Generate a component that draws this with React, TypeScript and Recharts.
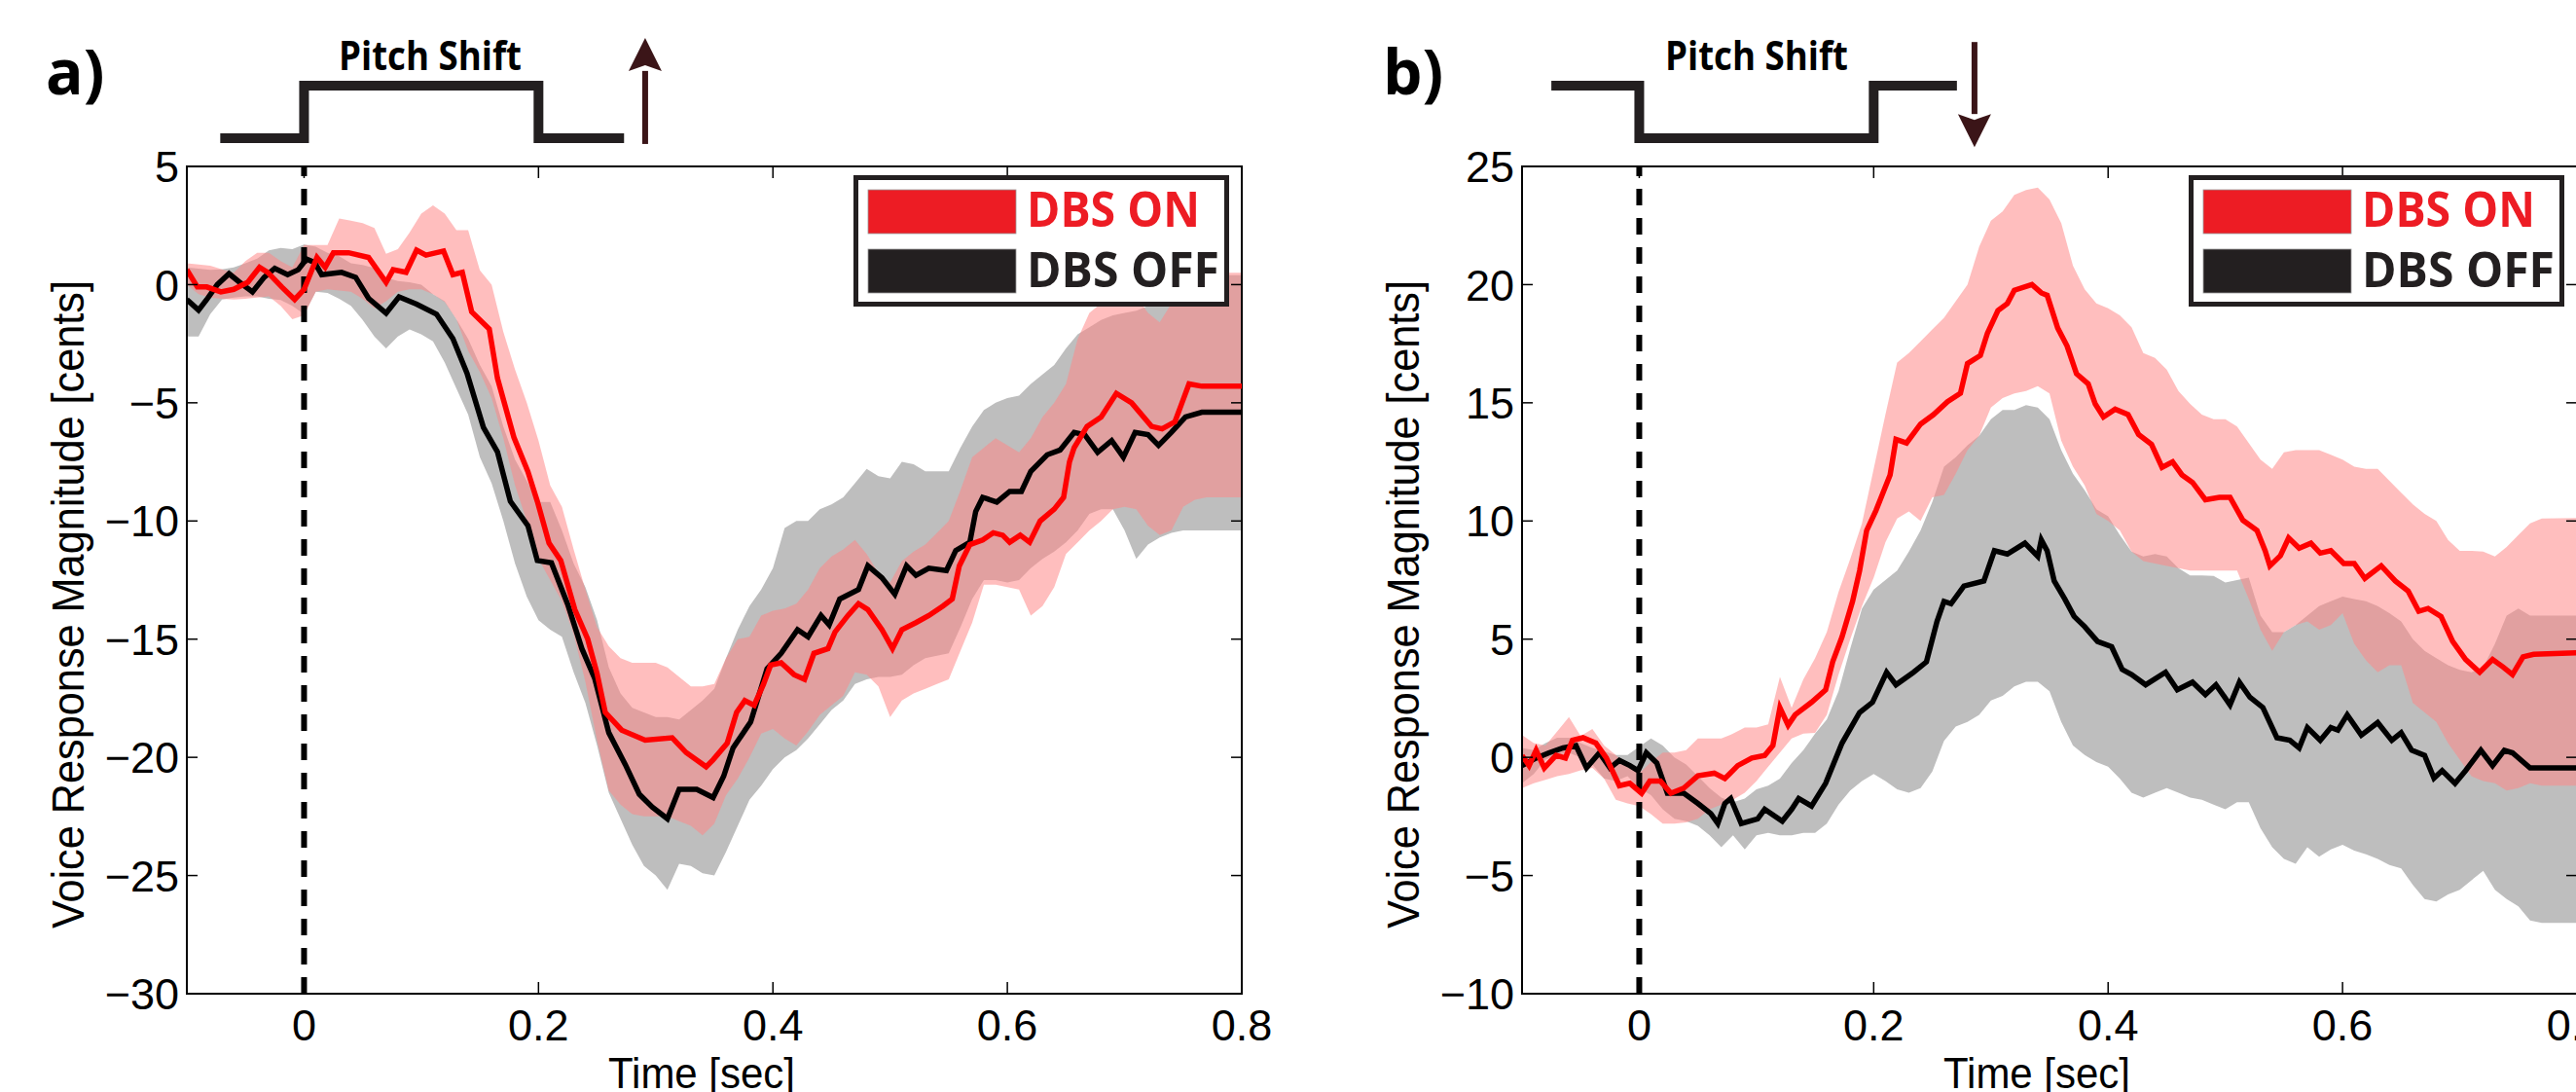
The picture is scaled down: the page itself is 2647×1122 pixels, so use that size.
import React from 'react';
import { ComposedChart, LineChart, Line, Area, XAxis, YAxis, ReferenceLine, ReferenceArea } from 'recharts';

const NARROW = "'Liberation Sans Narrow', 'Arial Narrow', 'Liberation Sans', sans-serif";
const BOLD = "'Open Sans', 'Liberation Sans', sans-serif";

// panel geometry
const W = 1400;
const H = 1122;
const AXIS_W = 192;
const PLOT_W = 1084;
const TOP = 171;
const BOTTOM_H = 101;
const PLOT_H = H - TOP - BOTTOM_H;
const RIGHT = W - AXIS_W - PLOT_W;
const TIME_DOMAIN: [number, number] = [-0.1, 0.8];

const timeTicks = [0, 0.2, 0.4, 0.6, 0.8];
const upTicks = [-30, -25, -20, -15, -10, -5, 0, 5];
const downTicks = [-10, -5, 0, 5, 10, 15, 20, 25];

// a) pitch shift up: [time, mean]
const upOnMean = [
  [-0.1, 0.63], [-0.091, -0.1], [-0.083, -0.1], [-0.071, -0.31], [-0.06, -0.2], [-0.048, 0.1], [-0.038, 0.73],
  [-0.031, 0.52], [-0.019, -0.1], [-0.008, -0.63], [0, -0.2], [0.011, 1.15], [0.018, 0.73], [0.025, 1.35],
  [0.038, 1.35], [0.055, 1.15], [0.07, 0.1], [0.076, 0.63], [0.087, 0.52], [0.096, 1.46], [0.104, 1.25],
  [0.119, 1.42], [0.127, 0.42], [0.135, 0.52], [0.143, -1.15], [0.158, -1.88], [0.165, -3.96], [0.179, -6.46],
  [0.191, -7.92], [0.199, -9.17], [0.209, -10.94], [0.219, -11.67], [0.231, -13.75], [0.242, -15.0],
  [0.25, -16.46], [0.257, -18.1], [0.271, -18.85], [0.291, -19.27], [0.314, -19.17], [0.326, -19.8],
  [0.343, -20.4], [0.349, -20.1], [0.361, -19.4], [0.369, -18.1], [0.376, -17.6], [0.384, -17.8],
  [0.392, -16.9], [0.398, -16.1], [0.407, -16.0], [0.418, -16.5], [0.427, -16.7], [0.435, -15.6],
  [0.447, -15.4], [0.453, -14.7], [0.464, -14.0], [0.473, -13.5], [0.481, -13.75], [0.493, -14.6],
  [0.502, -15.4], [0.51, -14.6], [0.522, -14.3], [0.533, -14.0], [0.545, -13.6], [0.553, -13.3],
  [0.559, -11.9], [0.568, -11.0], [0.579, -10.8], [0.588, -10.5], [0.596, -10.6], [0.602, -10.9],
  [0.611, -10.6], [0.619, -10.9], [0.628, -10.0], [0.64, -9.5], [0.648, -9.0], [0.653, -7.5], [0.657, -6.9],
  [0.668, -6.0], [0.68, -5.6], [0.693, -4.6], [0.706, -5.0], [0.723, -6.0], [0.732, -6.1], [0.743, -5.8],
  [0.749, -5.0], [0.755, -4.2], [0.766, -4.3], [0.8, -4.3],
];
const upOffMean = [
  [-0.1, -0.63], [-0.09, -1.08], [-0.083, -0.63], [-0.074, 0], [-0.064, 0.46], [-0.055, 0.1], [-0.044, -0.31],
  [-0.034, 0.31], [-0.025, 0.69], [-0.014, 0.42], [-0.005, 0.63], [0.002, 1.08], [0.009, 0.94], [0.015, 0.42],
  [0.032, 0.52], [0.044, 0.31], [0.055, -0.58], [0.07, -1.21], [0.081, -0.52], [0.096, -0.83], [0.113, -1.25],
  [0.127, -2.29], [0.139, -3.75], [0.153, -6.04], [0.165, -7.08], [0.176, -9.17], [0.191, -10.2],
  [0.199, -11.67], [0.211, -11.77], [0.225, -13.54], [0.237, -15.4], [0.248, -16.67], [0.26, -18.96],
  [0.274, -20.3], [0.286, -21.56], [0.297, -22.1], [0.31, -22.6], [0.32, -21.35], [0.335, -21.35],
  [0.349, -21.7], [0.358, -20.8], [0.366, -19.6], [0.381, -18.5], [0.395, -16.25], [0.407, -15.6],
  [0.421, -14.6], [0.43, -14.9], [0.441, -14.0], [0.448, -14.4], [0.457, -13.3], [0.473, -12.9],
  [0.481, -11.9], [0.493, -12.4], [0.504, -13.1], [0.514, -11.9], [0.522, -12.3], [0.533, -12.0],
  [0.548, -12.1], [0.556, -11.25], [0.568, -10.9], [0.573, -9.6], [0.579, -9.0], [0.591, -9.2],
  [0.602, -8.75], [0.612, -8.75], [0.62, -7.9], [0.634, -7.2], [0.645, -7.0], [0.657, -6.25], [0.666, -6.35],
  [0.677, -7.1], [0.689, -6.6], [0.699, -7.3], [0.709, -6.25], [0.72, -6.35], [0.729, -6.8], [0.74, -6.25],
  [0.752, -5.6], [0.766, -5.4], [0.8, -5.4],
];
// [time, lower, upper]
const upOnBand = [
  [-0.1, 0.0, 0.9], [-0.09, -0.4, 0.85], [-0.08, -0.55, 0.8], [-0.07, -0.6, 0.65], [-0.06, -0.63, 0.5],
  [-0.05, -0.6, 1.0], [-0.04, -0.55, 1.35], [-0.03, -0.5, 1.35], [-0.02, -0.9, 1.0], [-0.01, -1.46, 0.73],
  [0.0, -1.3, 1.67], [0.01, -0.3, 1.67], [0.02, -0.2, 1.67], [0.03, -0.25, 2.8], [0.04, -0.3, 2.7],
  [0.05, -0.6, 2.6], [0.06, -1.0, 2.4], [0.07, -0.7, 1.3], [0.08, -0.3, 1.5], [0.09, -0.2, 2.2],
  [0.1, -0.2, 3.0], [0.11, -0.4, 3.35], [0.12, -0.73, 3.0], [0.13, -1.46, 2.3], [0.14, -2.8, 2.3],
  [0.15, -3.7, 0.6], [0.16, -4.8, 0.0], [0.17, -6.5, -2.0], [0.18, -8.5, -3.6], [0.19, -10.0, -5.0],
  [0.2, -11.6, -6.6], [0.21, -12.5, -8.5], [0.22, -13.4, -9.4], [0.23, -14.8, -11.2], [0.24, -16.8, -12.9],
  [0.25, -19.3, -14.5], [0.26, -21.4, -15.3], [0.27, -22.0, -15.8], [0.28, -22.4, -16.0], [0.29, -22.5, -16.0],
  [0.3, -22.5, -16.0], [0.31, -22.5, -16.2], [0.32, -22.7, -16.6], [0.33, -22.9, -17.0], [0.34, -23.3, -17.0],
  [0.35, -22.8, -16.9], [0.36, -21.6, -15.8], [0.37, -20.9, -15.0], [0.38, -20.0, -14.9], [0.39, -19.0, -14.0],
  [0.4, -18.8, -13.8], [0.41, -19.2, -13.7], [0.42, -19.5, -13.5], [0.43, -18.9, -12.9], [0.44, -18.2, -12.0],
  [0.45, -17.8, -11.5], [0.46, -17.4, -11.2], [0.47, -16.4, -10.8], [0.48, -16.5, -11.4], [0.49, -17.0, -12.2],
  [0.5, -18.3, -12.6], [0.51, -17.6, -11.7], [0.52, -17.3, -11.3], [0.53, -17.1, -11.0], [0.54, -16.9, -10.5],
  [0.55, -16.7, -10.0], [0.56, -15.5, -8.7], [0.57, -14.3, -7.3], [0.58, -12.7, -6.9], [0.59, -12.7, -6.5],
  [0.6, -12.8, -6.8], [0.61, -12.9, -7.1], [0.62, -14.0, -6.5], [0.63, -13.6, -5.6], [0.64, -12.8, -5.0],
  [0.65, -11.4, -4.2], [0.66, -10.9, -2.3], [0.67, -10.4, -1.2], [0.68, -10.0, -0.8], [0.69, -9.5, -0.2],
  [0.7, -9.4, 0.0], [0.71, -9.5, -0.5], [0.72, -10.2, -1.2], [0.73, -10.6, -1.6], [0.74, -10.4, -0.8],
  [0.75, -9.4, 0.2], [0.76, -9.1, 0.45], [0.77, -9.0, 0.5], [0.8, -9.0, 0.5],
];
const upOffBand = [
  [-0.1, -2.2, 0.73], [-0.09, -2.2, 0.68], [-0.08, -1.25, 0.63], [-0.07, -0.63, 0.65], [-0.06, -0.55, 0.73],
  [-0.05, -0.5, 0.9], [-0.04, -0.5, 1.1], [-0.03, -0.6, 1.45], [-0.02, -0.65, 1.55], [-0.01, -0.9, 1.5],
  [0.0, -1.25, 1.7], [0.01, -0.3, 1.6], [0.02, -0.35, 1.35], [0.03, -0.6, 1.2], [0.04, -0.9, 0.9],
  [0.05, -1.5, 0.83], [0.06, -2.2, 0.7], [0.07, -2.7, 0.3], [0.08, -2.2, 0.15], [0.09, -1.9, 0.1],
  [0.1, -2.1, 0.0], [0.11, -2.4, -0.4], [0.12, -3.3, -0.7], [0.13, -4.4, -1.46], [0.14, -5.5, -2.3],
  [0.15, -7.3, -3.4], [0.16, -8.4, -4.3], [0.17, -10.0, -6.0], [0.18, -11.8, -7.4], [0.19, -13.2, -8.3],
  [0.2, -14.2, -9.2], [0.21, -14.6, -9.2], [0.22, -14.9, -10.4], [0.23, -16.4, -11.8], [0.24, -17.7, -12.8],
  [0.25, -19.5, -14.2], [0.26, -21.5, -16.2], [0.27, -22.6, -17.3], [0.28, -23.7, -17.9], [0.29, -24.6, -18.1],
  [0.3, -25.0, -18.3], [0.31, -25.6, -18.3], [0.32, -24.5, -18.4], [0.33, -24.6, -18.0], [0.34, -24.9, -17.6],
  [0.35, -25.0, -17.1], [0.36, -24.0, -15.8], [0.37, -22.9, -14.6], [0.38, -21.8, -13.6], [0.39, -21.2, -12.9],
  [0.4, -20.5, -12.0], [0.41, -20.0, -10.3], [0.42, -19.7, -10.0], [0.43, -19.2, -10.0], [0.44, -18.6, -9.5],
  [0.45, -18.0, -9.3], [0.46, -17.6, -9.0], [0.47, -16.9, -8.4], [0.48, -16.7, -7.8], [0.49, -16.6, -8.1],
  [0.5, -16.6, -8.2], [0.51, -16.5, -7.5], [0.52, -16.1, -7.6], [0.53, -15.8, -7.9], [0.54, -15.7, -7.9],
  [0.55, -15.6, -7.9], [0.56, -14.5, -6.9], [0.57, -13.3, -6.0], [0.58, -12.5, -5.3], [0.59, -12.5, -5.0],
  [0.6, -12.6, -4.8], [0.61, -12.5, -4.7], [0.62, -12.0, -4.2], [0.63, -11.6, -3.8], [0.64, -11.3, -3.4],
  [0.65, -10.9, -2.7], [0.66, -10.4, -2.1], [0.67, -9.7, -1.8], [0.68, -9.5, -1.5], [0.69, -9.5, -1.3],
  [0.7, -10.4, -1.2], [0.71, -11.6, -1.1], [0.72, -11.0, -0.9], [0.73, -10.7, -0.6], [0.74, -10.5, -0.3],
  [0.75, -10.4, 0.1], [0.76, -10.4, 0.3], [0.77, -10.4, 0.4], [0.8, -10.4, 0.4],
];

// b) pitch shift down
const downOnMean = [
  [-0.1, 0.08], [-0.094, -0.35], [-0.088, 0.3], [-0.081, -0.45], [-0.071, 0.08], [-0.063, -0.03], [-0.057, 0.72],
  [-0.048, 0.83], [-0.037, 0.6], [-0.028, -0.03], [-0.017, -1.2], [-0.008, -1.1], [0.002, -1.52], [0.009, -1.0],
  [0.018, -1.0], [0.027, -1.52], [0.038, -1.3], [0.05, -0.78], [0.064, -0.67], [0.073, -0.9], [0.084, -0.35],
  [0.096, -0.03], [0.107, 0.08], [0.114, 0.5], [0.12, 2.1], [0.127, 1.36], [0.133, 1.8], [0.147, 2.33],
  [0.159, 2.86], [0.165, 4.04], [0.173, 5.1], [0.182, 6.6], [0.188, 7.9], [0.194, 9.6], [0.202, 10.45],
  [0.214, 11.95], [0.219, 13.45], [0.228, 13.3], [0.24, 14.1], [0.251, 14.5], [0.263, 15.05], [0.274, 15.4],
  [0.28, 16.66], [0.291, 17.0], [0.297, 17.94], [0.306, 18.9], [0.314, 19.2], [0.32, 19.76], [0.335, 20.0],
  [0.343, 19.65], [0.348, 19.55], [0.357, 18.16], [0.365, 17.4], [0.373, 16.23], [0.383, 15.8], [0.389, 14.95],
  [0.396, 14.4], [0.406, 14.73], [0.417, 14.5], [0.426, 13.66], [0.437, 13.24], [0.446, 12.27], [0.455, 12.5],
  [0.463, 11.95], [0.472, 11.63], [0.483, 10.9], [0.495, 11.0], [0.504, 11.0], [0.515, 10.03], [0.527, 9.6],
  [0.534, 8.74], [0.538, 8.1], [0.547, 8.53], [0.554, 9.28], [0.563, 8.85], [0.573, 9.06], [0.581, 8.64],
  [0.59, 8.74], [0.601, 8.2], [0.61, 8.2], [0.619, 7.57], [0.633, 8.1], [0.645, 7.46], [0.656, 7.03],
  [0.665, 6.18], [0.673, 6.3], [0.684, 5.96], [0.694, 4.9], [0.705, 4.14], [0.717, 3.6], [0.728, 4.14],
  [0.737, 3.82], [0.745, 3.5], [0.754, 4.25], [0.763, 4.36], [0.8, 4.42],
];
const downOffMean = [
  [-0.1, -0.35], [-0.088, -0.03], [-0.077, 0.19], [-0.065, 0.4], [-0.054, 0.5], [-0.045, -0.45], [-0.034, 0.19],
  [-0.025, -0.45], [-0.017, -0.13], [-0.008, -0.35], [-0.001, -0.56], [0.006, 0.19], [0.015, -0.24],
  [0.024, -1.52], [0.038, -1.52], [0.05, -1.95], [0.061, -2.38], [0.067, -2.8], [0.073, -1.95], [0.078, -1.74],
  [0.087, -2.8], [0.101, -2.6], [0.107, -2.2], [0.122, -2.7], [0.13, -2.2], [0.136, -1.74], [0.147, -2.06],
  [0.159, -1.1], [0.173, 0.6], [0.188, 1.9], [0.199, 2.33], [0.211, 3.6], [0.219, 3.07], [0.234, 3.6],
  [0.245, 4.04], [0.254, 5.75], [0.26, 6.6], [0.266, 6.5], [0.277, 7.25], [0.294, 7.46], [0.303, 8.74],
  [0.314, 8.6], [0.329, 9.06], [0.34, 8.5], [0.343, 9.2], [0.348, 8.74], [0.354, 7.46], [0.363, 6.7],
  [0.371, 5.96], [0.38, 5.53], [0.391, 4.9], [0.403, 4.68], [0.412, 3.72], [0.42, 3.5], [0.432, 3.07],
  [0.449, 3.6], [0.459, 2.86], [0.472, 3.18], [0.483, 2.65], [0.492, 3.07], [0.504, 2.22], [0.512, 3.18],
  [0.521, 2.54], [0.532, 2.11], [0.544, 0.83], [0.555, 0.72], [0.563, 0.4], [0.57, 1.26], [0.581, 0.72],
  [0.59, 1.26], [0.596, 1.15], [0.604, 1.8], [0.616, 0.94], [0.63, 1.47], [0.642, 0.72], [0.65, 1.04],
  [0.659, 0.3], [0.67, 0.08], [0.678, -0.88], [0.685, -0.56], [0.696, -1.1], [0.705, -0.56], [0.718, 0.3],
  [0.728, -0.35], [0.738, 0.3], [0.745, 0.19], [0.76, -0.45], [0.8, -0.45],
];
const downOnBand = [
  [-0.1, -1.3, 0.94], [-0.09, -1.1, 0.6], [-0.08, -0.95, 0.5], [-0.07, -0.8, 1.1], [-0.06, -0.7, 1.7],
  [-0.05, -0.55, 0.9], [-0.04, -0.45, 1.2], [-0.03, -0.9, 0.5], [-0.02, -1.8, 0.1], [-0.01, -1.95, -0.4],
  [0.0, -2.06, -0.67], [0.01, -2.4, -0.2], [0.02, -2.8, 0.2], [0.03, -2.8, 0.2], [0.04, -2.75, 0.3],
  [0.05, -2.6, 0.8], [0.06, -2.2, 0.8], [0.07, -2.0, 0.8], [0.08, -1.8, 1.0], [0.09, -1.5, 1.26],
  [0.1, -1.0, 1.26], [0.11, -0.4, 1.4], [0.12, 0.2, 3.4], [0.13, 0.8, 2.1], [0.14, 1.0, 3.3],
  [0.15, 1.04, 4.2], [0.16, 1.8, 5.3], [0.17, 3.5, 7.0], [0.18, 5.0, 8.4], [0.19, 6.4, 9.9],
  [0.2, 7.6, 12.2], [0.21, 9.1, 14.5], [0.22, 10.1, 16.7], [0.23, 10.4, 17.1], [0.24, 10.0, 17.6],
  [0.25, 11.0, 18.1], [0.26, 11.1, 18.6], [0.27, 12.0, 19.3], [0.28, 13.0, 20.0], [0.29, 13.6, 21.6],
  [0.3, 14.8, 22.7], [0.31, 15.2, 23.1], [0.32, 15.4, 23.8], [0.33, 15.5, 24.0], [0.34, 15.7, 24.1],
  [0.35, 15.4, 23.6], [0.36, 13.4, 22.6], [0.37, 12.3, 20.8], [0.38, 11.5, 19.8], [0.39, 10.3, 19.2],
  [0.4, 10.0, 19.0], [0.41, 9.6, 18.7], [0.42, 8.7, 18.2], [0.43, 8.3, 17.1], [0.44, 8.2, 16.9],
  [0.45, 8.1, 16.4], [0.46, 8.0, 15.5], [0.47, 7.9, 14.95], [0.48, 7.9, 14.5], [0.49, 7.9, 14.3],
  [0.5, 7.9, 14.3], [0.51, 7.9, 14.0], [0.52, 6.7, 13.3], [0.53, 5.4, 12.6], [0.54, 4.5, 12.2],
  [0.55, 5.3, 12.9], [0.56, 5.6, 13.0], [0.57, 5.75, 13.0], [0.58, 5.4, 13.0], [0.59, 5.6, 12.8],
  [0.6, 6.1, 12.6], [0.61, 4.8, 12.3], [0.62, 4.1, 12.2], [0.63, 3.6, 12.2], [0.64, 3.9, 11.7],
  [0.65, 3.9, 11.2], [0.66, 2.3, 10.7], [0.67, 1.9, 10.3], [0.68, 1.5, 10.0], [0.69, 0.6, 9.2],
  [0.7, -0.1, 8.74], [0.71, -0.8, 8.74], [0.72, -1.0, 8.7], [0.73, -1.1, 8.5], [0.74, -1.4, 8.9],
  [0.75, -1.3, 9.4], [0.76, -1.1, 9.9], [0.77, -1.2, 10.1], [0.8, -1.2, 10.13],
];
const downOffBand = [
  [-0.1, -1.1, 0.4], [-0.09, -0.7, 0.3], [-0.08, -0.1, 0.6], [-0.07, 0.1, 0.83], [-0.06, 0.19, 0.83],
  [-0.05, 0.0, 0.6], [-0.04, -0.3, 0.4], [-0.03, -0.9, 0.25], [-0.02, -1.0, 0.1], [-0.01, -0.8, 0.1],
  [0.0, -1.3, 0.45], [0.01, -1.6, 0.8], [0.02, -2.2, 0.5], [0.03, -2.6, 0.0], [0.04, -2.7, -0.3],
  [0.05, -2.9, -0.8], [0.06, -3.3, -1.3], [0.07, -3.8, -1.7], [0.08, -3.3, -1.9], [0.09, -3.9, -1.74],
  [0.1, -3.3, -1.35], [0.11, -3.2, -1.2], [0.12, -3.3, -0.9], [0.13, -3.3, -0.24], [0.14, -3.2, 0.3],
  [0.15, -3.2, 1.0], [0.16, -2.8, 1.6], [0.17, -2.0, 2.8], [0.18, -1.4, 4.6], [0.19, -1.0, 6.3],
  [0.2, -0.7, 7.1], [0.21, -1.0, 7.5], [0.22, -1.35, 7.9], [0.23, -1.5, 8.7], [0.24, -1.3, 9.6],
  [0.25, -0.6, 10.8], [0.26, 0.7, 12.3], [0.27, 1.3, 12.7], [0.28, 1.5, 13.2], [0.29, 1.8, 13.6],
  [0.3, 2.4, 14.3], [0.31, 2.6, 14.7], [0.32, 3.0, 14.7], [0.33, 3.2, 14.9], [0.34, 3.2, 14.8],
  [0.35, 2.8, 14.3], [0.36, 1.5, 13.0], [0.37, 0.5, 12.0], [0.38, 0.1, 11.3], [0.39, -0.2, 10.5],
  [0.4, -0.4, 10.2], [0.41, -0.9, 9.4], [0.42, -1.5, 8.7], [0.43, -1.7, 8.5], [0.44, -1.5, 8.6],
  [0.45, -1.3, 8.5], [0.46, -1.5, 8.0], [0.47, -1.7, 7.7], [0.48, -1.8, 7.7], [0.49, -2.0, 7.67],
  [0.5, -2.2, 7.4], [0.51, -1.9, 7.5], [0.52, -1.9, 7.6], [0.53, -3.0, 6.0], [0.54, -3.8, 5.3],
  [0.55, -4.3, 5.3], [0.56, -4.5, 5.6], [0.57, -3.8, 6.0], [0.58, -4.2, 6.4], [0.59, -3.9, 6.6],
  [0.6, -3.7, 6.8], [0.61, -3.95, 6.7], [0.62, -4.1, 6.6], [0.63, -4.3, 6.4], [0.64, -4.55, 6.1],
  [0.65, -4.7, 5.75], [0.66, -5.4, 5.0], [0.67, -6.0, 4.5], [0.68, -6.1, 4.2], [0.69, -5.8, 3.9],
  [0.7, -5.6, 3.7], [0.71, -5.2, 3.6], [0.72, -4.8, 3.8], [0.73, -5.6, 4.8], [0.74, -6.0, 6.0],
  [0.75, -6.3, 6.3], [0.76, -6.9, 6.0], [0.77, -7.0, 6.0], [0.8, -7.0, 6.0],
];

// pitch shift stimulus trace: [time, level]
const upShiftStep = [[-0.0715, 0], [0, 1], [0.2, 0], [0.273, 0]];
const downShiftStep = [[-0.075, 1], [0, 0], [0.2, 1], [0.271, 1]];
// arrow: [time, level] from tail to head base
const upArrow = [[0.291, -0.11], [0.291, 1.28]];
const downArrow = [[0.286, 1.83], [0.286, 0.46]];

const toLine = (rows: number[][]) => rows.map(([t, v]) => ({ t, v }));
const toBand = (rows: number[][]) => rows.map(([t, lo, hi]) => ({ t, range: [lo, hi] }));
const fmt = (v: number) => (v < 0 ? '\u2212' + Math.abs(v) : String(v));

function XTick(props: any) {
  const { x, y, payload } = props;
  return (
    <g>
      <line x1={x} x2={x} y1={y} y2={y - 12} stroke="#000" strokeWidth={1.5} />
      <line x1={x} x2={x} y1={TOP} y2={TOP + 12} stroke="#000" strokeWidth={1.5} />
      <text x={x} y={y + 48} textAnchor="middle" fontSize={45} fontFamily={NARROW} fill="#000">
        {String(payload.value)}
      </text>
    </g>
  );
}

function YTick(props: any) {
  const { x, y, payload } = props;
  return (
    <g>
      <line x1={x} x2={x + 11} y1={y} y2={y} stroke="#000" strokeWidth={1.5} />
      <line x1={x + PLOT_W} x2={x + PLOT_W - 11} y1={y} y2={y} stroke="#000" strokeWidth={1.5} />
      <text x={x - 8} y={y} dy="0.36em" textAnchor="end" fontSize={45} fontFamily={NARROW} fill="#000">
        {fmt(payload.value)}
      </text>
    </g>
  );
}

function XTitle() {
  const cx = AXIS_W + PLOT_W / 2 - 13;
  return (
    <text x={cx} y={H - 4} textAnchor="middle" fontSize={44} fontFamily={NARROW} fill="#000"
      textLength={192} lengthAdjust="spacingAndGlyphs">Time [sec]</text>
  );
}

function YTitle() {
  const cx = 86;
  const cy = TOP + PLOT_H / 2 + 25;
  return (
    <text x={cx} y={cy} transform={`rotate(-90 ${cx} ${cy})`} textAnchor="middle" fontSize={46}
      fontFamily={NARROW} fill="#000" textLength={666} lengthAdjust="spacingAndGlyphs">
      Voice Response Magnitude [cents]
    </text>
  );
}

function ArrowHead(props: any) {
  const { cx, cy, index, dir } = props;
  if (index !== 1 || cx == null) return <g key={`ah-${index}`} />;
  const tip = cy + dir * 34;
  return (
    <polygon key={`ah-${index}`} fill="#3b1518"
      points={`${cx},${tip} ${cx + 17},${cy} ${cx},${cy + dir * 6} ${cx - 17},${cy}`} />
  );
}

function LegendBox() {
  return (
    <svg width={388} height={136} style={{ display: 'block' }}>
      <rect x={2.5} y={2.5} width={381} height={130} fill="#fff" stroke="#231f20" strokeWidth={5} />
      <rect x={15} y={15} width={152} height={45} fill="#ed1c24" stroke="#999" strokeWidth={0.8} />
      <rect x={15} y={76} width={152} height={45} fill="#231f20" stroke="#999" strokeWidth={0.8} />
      <text x={178} y={53} fontFamily={BOLD} fontWeight={700} fontSize={50} fill="#ed1c24"
        textLength={178} lengthAdjust="spacingAndGlyphs">DBS ON</text>
      <text x={178} y={115} fontFamily={BOLD} fontWeight={700} fontSize={50} fill="#231f20"
        textLength={198} lengthAdjust="spacingAndGlyphs">DBS OFF</text>
    </svg>
  );
}

type PanelProps = {
  left: number;
  letter: string;
  letterX: number;
  titleX: number;
  yDomain: [number, number];
  yTicks: number[];
  onMean: number[][];
  offMean: number[][];
  onBand: number[][];
  offBand: number[][];
  step: number[][];
  arrow: number[][];
  arrowDir: number;
};

function Panel(p: PanelProps) {
  return (
    <div style={{ position: 'absolute', left: p.left, top: 0, width: W, height: H }}>
      <div style={{ position: 'absolute', left: 0, top: 0 }}>
        <ComposedChart width={W} height={H} margin={{ top: TOP, right: RIGHT, bottom: 0, left: 0 }}>
          <XAxis dataKey="t" type="number" domain={TIME_DOMAIN} ticks={timeTicks} interval={0} allowDataOverflow
            height={BOTTOM_H} tickLine={false} tickSize={0} tickMargin={0} tick={<XTick />}
            axisLine={{ stroke: '#000', strokeWidth: 2 }} label={<XTitle />} />
          <YAxis type="number" domain={p.yDomain} ticks={p.yTicks} interval={0} allowDataOverflow width={AXIS_W}
            tickLine={false} tickSize={0} tickMargin={0} tick={<YTick />}
            axisLine={{ stroke: '#000', strokeWidth: 2 }} label={<YTitle />} />
          <Area data={toBand(p.offBand)} dataKey="range" type="linear" fill="#bebebe" fillOpacity={1}
            stroke="none" isAnimationActive={false} />
          <Area data={toBand(p.onBand)} dataKey="range" type="linear" fill="#ff8787" fillOpacity={0.54}
            stroke="none" isAnimationActive={false} />
          <ReferenceLine x={0} stroke="#000" strokeWidth={6} strokeDasharray="17 13" />
          <Line data={toLine(p.offMean)} dataKey="v" type="linear" stroke="#000" strokeWidth={5.5} dot={false}
            isAnimationActive={false} />
          <Line data={toLine(p.onMean)} dataKey="v" type="linear" stroke="#ff0000" strokeWidth={5.5} dot={false}
            isAnimationActive={false} />
          <ReferenceArea x1={TIME_DOMAIN[0]} x2={TIME_DOMAIN[1]} y1={p.yDomain[0]} y2={p.yDomain[1]}
            fill="none" fillOpacity={0} stroke="#000" strokeWidth={2} />
        </ComposedChart>
      </div>
      <div style={{ position: 'absolute', left: 0, top: 0 }}>
        <LineChart width={W} height={TOP} margin={{ top: 7, right: RIGHT, bottom: 2, left: AXIS_W }}>
          <XAxis dataKey="t" type="number" domain={TIME_DOMAIN} hide allowDataOverflow />
          <YAxis type="number" domain={[-0.5, 2.5]} hide width={0} allowDataOverflow />
          <Line data={toLine(p.step)} dataKey="v" type="stepAfter" stroke="#231f20" strokeWidth={10}
            dot={false} isAnimationActive={false} />
          <Line data={toLine(p.arrow)} dataKey="v" type="linear" stroke="#3b1518" strokeWidth={6}
            dot={(d: any) => <ArrowHead {...d} dir={p.arrowDir} />} isAnimationActive={false} />
        </LineChart>
      </div>
      <svg width={W} height={TOP} style={{ position: 'absolute', left: 0, top: 0, pointerEvents: 'none' }}>
        <text x={p.letterX} y={97} fontFamily={BOLD} fontWeight={700} fontSize={64} fill="#000">{p.letter}</text>
        <text x={p.titleX} y={72} textAnchor="middle" fontFamily={BOLD} fontWeight={700} fontSize={41}
          fill="#000" textLength={188} lengthAdjust="spacingAndGlyphs">Pitch Shift</text>
      </svg>
      <div style={{ position: 'absolute', left: 877, top: 180 }}>
        <LegendBox />
      </div>
    </div>
  );
}

export default function App() {
  return (
    <div style={{ position: 'absolute', left: 0, top: 0, width: 2647, height: 1122, overflow: 'hidden', background: '#fff' }}>
      <Panel left={0} letter="a)" letterX={47} titleX={442} yDomain={[-30, 5]} yTicks={upTicks}
        onMean={upOnMean} offMean={upOffMean} onBand={upOnBand} offBand={upOffBand}
        step={upShiftStep} arrow={upArrow} arrowDir={-1} />
      <Panel left={1372} letter="b)" letterX={49} titleX={433} yDomain={[-10, 25]} yTicks={downTicks}
        onMean={downOnMean} offMean={downOffMean} onBand={downOnBand} offBand={downOffBand}
        step={downShiftStep} arrow={downArrow} arrowDir={1} />
    </div>
  );
}
